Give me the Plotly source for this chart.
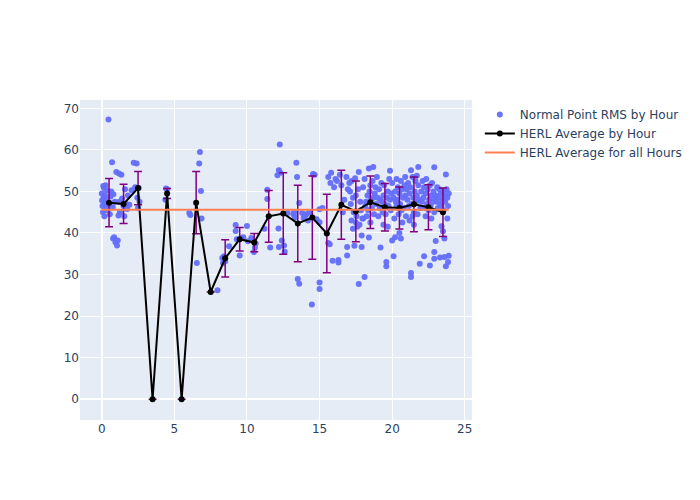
import plotly.graph_objects as go

# Normal point RMS by hour (scatter)
np_hour = [
    0.0, 0.02, 0.05, 0.08, 0.1, 0.12, 0.15, 0.18, 0.2, 0.22, 0.25, 0.28, 0.3, 0.35, 0.4, 0.46, 0.5, 0.55, 0.6, 0.65, 0.71, 0.75, 0.78, 0.8, 0.85, 0.9, 0.94,
    1.0, 1.05, 1.1, 1.15, 1.18, 1.2, 1.25, 1.35, 1.4, 1.5, 1.55, 1.6, 1.7, 1.75, 1.8, 1.9,
    2.2, 2.4, 2.05, 2.3, 2.45, 2.5, 2.6, 2.55,
    4.38, 4.43, 4.5,
    6.03, 6.1, 6.55, 6.71, 6.76, 6.83, 6.87,
    7.97,
    8.35, 8.42, 8.5, 8.77, 8.3,
    9.22, 9.22, 9.5, 9.3, 9.6, 9.75,
    10.0, 10.07, 10.48, 10.55, 10.6, 10.3,
    11.4, 11.4, 11.6, 11.2,
    12.26, 12.2, 12.1, 12.17, 12.2, 12.4, 12.6, 12.55, 12.3, 12.8,
    13.4, 13.45, 13.6, 13.2, 13.3, 13.5, 13.6, 13.8, 13.9, 13.25,
    14.66, 14.47, 14.0, 14.2, 14.3, 14.55, 14.1, 14.8,
    15.0, 15.0, 15.0, 15.0, 15.6, 15.7, 15.9, 15.6, 15.8, 15.75, 15.2,
    16.0, 16.1, 16.3, 16.2, 16.4, 16.5, 16.3, 16.6, 16.85, 16.9, 16.9, 16.7, 16.95,
    17.4, 17.7, 17.7, 17.9, 17.9, 17.1, 17.2, 17.3, 17.35, 17.5, 17.55, 17.6, 17.2, 17.45, 17.8, 17.65, 17.15, 17.05, 17.75, 17.85, 17.5, 17.3, 17.95,
    18.1, 18.4, 18.7, 18.4, 18.0, 18.1, 18.2, 18.3, 18.35, 18.5, 18.55, 18.6, 18.65, 18.75, 18.8, 18.9, 18.95, 18.25, 18.45, 18.85, 18.15, 18.7, 18.5, 18.0,
    19.2, 19.6, 19.6, 19.0, 19.1, 19.15, 19.25, 19.3, 19.35, 19.4, 19.45, 19.5, 19.55, 19.65, 19.7, 19.75, 19.8, 19.85, 19.9, 19.95, 19.05, 19.4, 19.7, 19.85, 19.2,
    20.1, 20.0, 20.2, 20.6, 20.0, 20.1, 20.2, 20.3, 20.35, 20.4, 20.45, 20.5, 20.55, 20.6, 20.65, 20.7, 20.75, 20.8, 20.85, 20.9, 20.95, 20.3, 20.15, 20.5, 20.25, 20.7, 20.9,
    21.3, 21.8, 21.3, 21.3, 21.9, 21.0, 21.05, 21.1, 21.15, 21.2, 21.25, 21.35, 21.4, 21.45, 21.5, 21.55, 21.6, 21.65, 21.7, 21.75, 21.8, 21.85, 21.95, 21.5, 21.2, 21.7, 21.4,
    22.2, 22.6, 22.9, 22.9, 22.0, 22.05, 22.1, 22.15, 22.2, 22.25, 22.3, 22.35, 22.4, 22.45, 22.5, 22.55, 22.6, 22.65, 22.7, 22.75, 22.8, 22.85, 22.9, 22.95, 22.3, 22.7, 22.9,
    23.7, 23.4, 23.5, 23.6, 23.0, 23.3, 23.6, 23.7, 23.0, 23.05, 23.1, 23.15, 23.2, 23.25, 23.3, 23.35, 23.4, 23.45, 23.5, 23.55, 23.6, 23.65, 23.75, 23.8, 23.85, 23.9, 23.8, 23.9, 23.85,
]
np_rms = [
    49.5, 47.8, 46.5, 45.0, 51.3, 48.5, 50.8, 44.0, 47.2, 49.0, 51.5, 46.0, 48.0, 50.2, 45.5, 67.3, 47.0, 44.5, 48.8, 50.0, 57.0, 46.2, 38.7, 49.3, 39.0, 47.5, 37.8,
    54.7, 37.0, 38.2, 44.2, 54.3, 47.5, 45.0, 54.0, 48.3, 46.5, 44.0, 50.5, 47.0, 45.8, 49.0, 46.8,
    56.9, 56.7, 50.3, 51.0, 48.5, 46.0, 47.5, 50.8,
    48.0, 50.7, 50.5,
    44.8, 44.3, 32.8, 56.7, 59.5, 50.1, 43.5,
    26.2,
    32.8, 34.4, 33.2, 36.8, 34.0,
    41.9, 40.5, 34.6, 38.5, 38.8, 39.0,
    41.7, 38.0, 35.4, 36.5, 37.5, 38.8,
    50.4, 48.2, 36.5, 41.0,
    61.3, 55.1, 53.9, 41.1, 36.6, 38.2, 35.5, 37.0, 54.5, 44.8,
    56.9, 53.5, 47.2, 44.5, 43.8, 28.9, 27.8, 44.8, 43.6, 45.0,
    54.0, 22.8, 44.2, 43.0, 45.0, 54.2, 44.5, 43.3,
    45.7, 42.6, 28.1, 26.5, 37.6, 37.3, 33.3, 53.5, 54.5, 52.0, 46.0,
    51.0, 53.0, 32.9, 52.5, 54.0, 51.5, 33.5, 45.0, 53.5, 36.6, 34.6, 48.0, 50.5,
    36.9, 27.7, 54.7, 36.6, 39.4, 50.0, 52.5, 48.5, 45.0, 42.5, 44.0, 41.5, 43.0, 53.2, 47.5, 50.5, 47.0, 52.0, 42.0, 45.5, 49.0, 41.0, 43.5,
    29.4, 55.5, 55.9, 38.9, 51.0, 53.0, 47.5, 49.0, 45.5, 51.5, 48.0, 46.0, 52.5, 44.5, 49.5, 47.0, 53.5, 44.0, 50.0, 51.0, 46.5, 48.5, 42.5, 43.5,
    36.5, 33.0, 32.0, 48.5, 50.5, 46.0, 52.0, 47.5, 45.0, 49.0, 51.5, 47.0, 44.5, 48.5, 50.0, 46.5, 53.0, 48.0, 45.5, 49.5, 44.0, 42.0, 41.5, 55.0, 48.0,
    34.4, 38.2, 39.0, 38.7, 52.0, 48.5, 50.0, 46.5, 48.0, 51.0, 44.5, 49.5, 47.0, 52.5, 45.5, 50.5, 48.5, 46.0, 51.5, 49.0, 44.0, 53.0, 43.5, 40.0, 47.5, 42.5, 53.5,
    55.1, 55.9, 30.4, 29.4, 32.6, 50.5, 48.0, 52.0, 46.5, 49.5, 51.0, 47.0, 53.5, 48.5, 45.0, 50.0, 52.5, 47.5, 49.0, 44.5, 51.5, 48.0, 46.0, 42.0, 43.0, 53.8, 44.0,
    34.4, 32.2, 35.4, 33.8, 50.0, 47.5, 52.5, 48.5, 51.0, 46.0, 49.5, 53.0, 47.0, 50.5, 45.5, 48.0, 51.5, 46.5, 49.0, 52.0, 47.5, 50.0, 45.0, 48.5, 44.0, 43.5, 55.8,
    54.1, 41.6, 40.4, 38.7, 38.1, 34.1, 34.2, 32.0, 49.0, 47.5, 51.0, 46.0, 48.5, 50.5, 47.0, 49.5, 46.5, 48.0, 50.0, 45.5, 49.0, 47.5, 50.5, 48.5, 46.5, 49.5, 43.5, 34.5, 33.0,
]

# HERL average by hour with standard deviation
avg_hour = [0.5, 1.5, 2.5, 3.5, 4.5, 5.5, 6.5, 7.5, 8.5, 9.5, 10.5, 11.5,
            12.5, 13.5, 14.5, 15.5, 16.5, 17.5, 18.5, 19.5, 20.5, 21.5, 22.5, 23.5]
avg_rms = [47.3, 47.0, 50.8, 0.0, 49.5, 0.0, 47.3, 25.8, 33.9, 38.5, 37.7, 44.0,
           44.7, 42.3, 43.7, 39.9, 46.8, 45.2, 47.4, 46.2, 46.0, 46.9, 46.2, 45.0]
avg_std = [5.8, 4.7, 4.0, 0.0, 1.2, 0.0, 7.5, 0.0, 4.5, 2.85, 2.2, 6.25,
           9.8, 9.2, 10.0, 9.45, 8.3, 7.3, 6.3, 5.7, 5.05, 6.6, 5.4, 5.85]

# HERL average for all hours
overall_x = [0.0, 23.9]
overall_avg = [45.6, 45.6]

fig = go.Figure()
fig.add_trace(go.Scatter(
    x=np_hour, y=np_rms, mode="markers", name="Normal Point RMS by Hour",
    marker=dict(color="#636efa", size=6, opacity=0.95),
))
fig.add_trace(go.Scatter(
    x=avg_hour, y=avg_rms, mode="lines+markers", name="HERL Average by Hour",
    line=dict(color="black", width=2), marker=dict(color="black", size=6),
    error_y=dict(type="data", array=avg_std, visible=True, color="purple",
                 thickness=1.5, width=4),
))
fig.add_trace(go.Scatter(
    x=overall_x, y=overall_avg, mode="lines", name="HERL Average for all Hours",
    line=dict(color="#ff7f50", width=2),
))
fig.update_layout(
    width=700, height=500,
    font=dict(family="DejaVu Sans"),
    margin=dict(l=72, t=92, b=88, r=236),
    xaxis=dict(range=[-1.5, 25.5], dtick=5),
    yaxis=dict(range=[-5, 72], dtick=10),
)
fig.write_html("out.html")
